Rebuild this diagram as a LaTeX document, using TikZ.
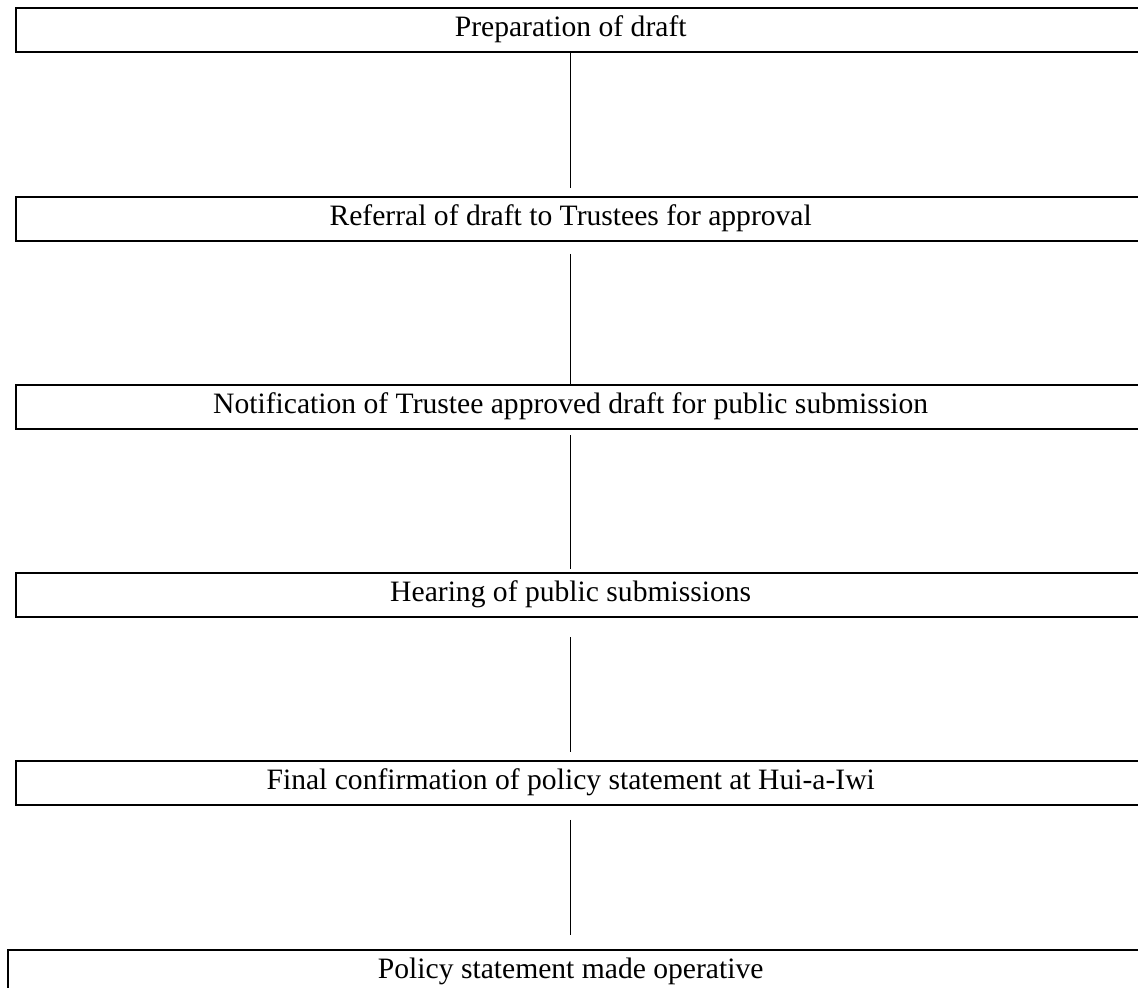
\documentclass[tikz,border=0pt]{standalone}
\usepackage{fontspec}
\setmainfont{Liberation Serif}
\usepackage{tikz}
\usepackage{xcolor}

\begin{document}
\begin{tikzpicture}[x=0.5pt,y=-0.5pt,
  steptext/.style={minimum height=21.5pt,inner sep=0pt,text height=0.9em,text depth=0.24em,font=\fontsize{14.8pt}{17pt}\selectfont},
  frame/.style={line width=1pt},
  link/.style={line width=0.7pt}]
\clip (0,0) rectangle (1138,988);

% Pasos
\node[steptext] (prep) at (570.7,30) {Preparation of draft};
\node[steptext] (referral) at (570.7,218.85) {Referral of draft to Trustees for approval};
\node[steptext] (notice) at (570.7,407.2) {Notification of Trustee approved draft for public submission};
\node[steptext] (hearing) at (570.7,595.35) {Hearing of public submissions};
\node[steptext] (confirm) at (570.7,783) {Final confirmation of policy statement at Hui-a-Iwi};
\node[steptext] (operative) at (570.7,971.5) {Policy statement made operative};

% Marcos
\draw[frame] (15.7,0 |- prep.north) rectangle (1160,0 |- prep.south);
\draw[frame] (15.7,0 |- referral.north) rectangle (1160,0 |- referral.south);
\draw[frame] (15.7,0 |- notice.north) rectangle (1160,0 |- notice.south);
\draw[frame] (15.7,0 |- hearing.north) rectangle (1160,0 |- hearing.south);
\draw[frame] (15.7,0 |- confirm.north) rectangle (1160,0 |- confirm.south);
\draw[frame] (7.7,0 |- operative.north) rectangle (1160,0 |- operative.south);

% Lineas
\draw[link, shorten >=4.7pt] (prep.south) -- (referral.north);
\draw[link, shorten <=6.6pt, shorten >=-0.6pt] (referral.south) -- (notice.north);
\draw[link, shorten <=3.1pt, shorten >=2pt] (notice.south) -- (hearing.north);
\draw[link, shorten <=10pt, shorten >=4.5pt] (hearing.south) -- (confirm.north);
\draw[link, shorten <=7.5pt, shorten >=7.5pt] (confirm.south) -- (operative.north);
\end{tikzpicture}
\end{document}
